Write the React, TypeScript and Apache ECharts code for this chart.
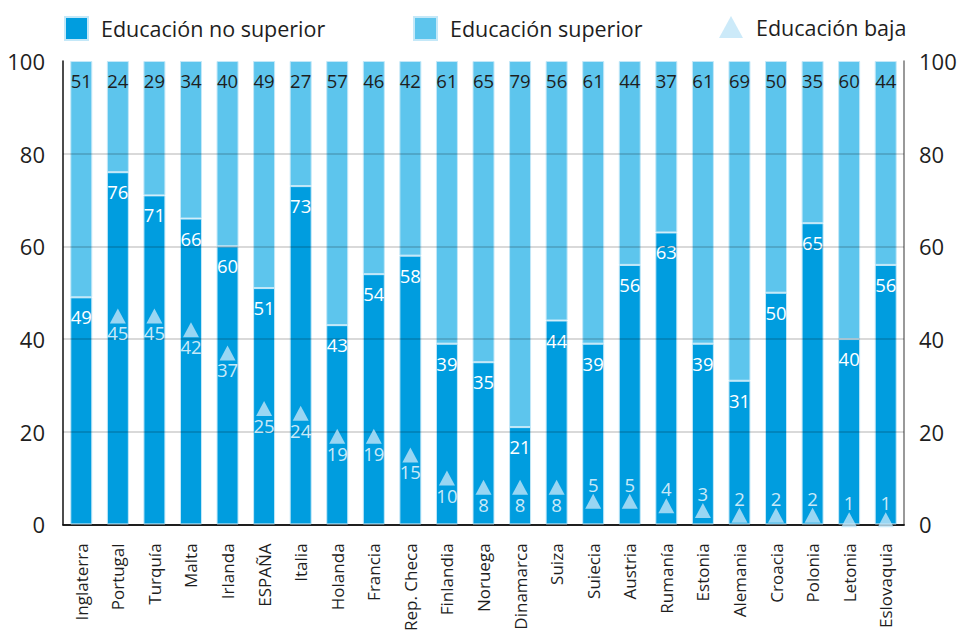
import React, { useEffect, useRef } from "react";
import * as echarts from "echarts";

const categories = [
  "Inglaterra", "Portugal", "Turquía", "Malta", "Irlanda", "ESPAÑA", "Italia",
  "Holanda", "Francia", "Rep. Checa", "Finlandia", "Noruega", "Dinamarca", "Suiza",
  "Suiecia", "Austria", "Rumanía", "Estonia", "Alemania", "Croacia", "Polonia",
  "Letonia", "Eslovaquia",
];
const noSuperior = [49, 76, 71, 66, 60, 51, 73, 43, 54, 58, 39, 35, 21, 44, 39, 56, 63, 39, 31, 50, 65, 40, 56];
const superior = [51, 24, 29, 34, 40, 49, 27, 57, 46, 42, 61, 65, 79, 56, 61, 44, 37, 61, 69, 50, 35, 60, 44];
const baja: (number | null)[] = [null, 45, 45, 42, 37, 25, 24, 19, 19, 15, 10, 8, 8, 8, 5, 5, 4, 3, 2, 2, 2, 1, 1];
const yTicks = [0, 20, 40, 60, 80, 100];
const seriesNames = ["Educación no superior", "Educación superior", "Educación baja"];

const FONT = "'Open Sans', 'Noto Sans', sans-serif";
const DARK = "#009ddf";
const LIGHT = "#5dc5ed";
const TRI = "#bfe5f7";
const TEXT = "#1e1e1e";

export default function App() {
  const ref = useRef<HTMLDivElement>(null);
  useEffect(() => {
    if (!ref.current) return;
    const chart = echarts.init(ref.current, null, { renderer: "svg" });
    const legendText = { fontFamily: FONT, fontSize: 21.5, color: TEXT, padding: [0, 0, 0, 8] };
    chart.setOption({
      animation: false,
      textStyle: { fontFamily: FONT },
      legend: [
        { data: [{ name: seriesNames[0], icon: "rect" }], left: 59, top: 11, itemWidth: 23, itemHeight: 23, textStyle: legendText, selectedMode: false },
        { data: [{ name: seriesNames[1], icon: "rect" }], left: 408, top: 11, itemWidth: 23, itemHeight: 23, textStyle: legendText, selectedMode: false },
        { data: [{ name: seriesNames[2], icon: "triangle" }], left: 714, top: 11, itemWidth: 24, itemHeight: 22, textStyle: legendText, selectedMode: false },
      ],
      grid: { left: 63, right: 57, top: 61, bottom: 107, containLabel: false },
      xAxis: [
        {
          type: "category",
          data: categories,
          position: "bottom",
          axisLine: { show: true, lineStyle: { color: "#111", width: 1.5 } },
          axisTick: { show: false },
          axisLabel: { rotate: 90, fontSize: 17, color: TEXT, margin: 19, fontFamily: FONT, interval: 0 },
        },
        {
          type: "category",
          data: categories,
          position: "top",
          axisLine: { show: true, lineStyle: { color: "#111", width: 1.5 } },
          axisTick: { show: false },
          axisLabel: { show: false },
        },
      ],
      yAxis: [
        {
          type: "value",
          min: yTicks[0],
          max: yTicks[yTicks.length - 1],
          interval: 20,
          position: "left",
          axisLine: { show: true, lineStyle: { color: "#111", width: 1.5 } },
          axisTick: { show: false },
          splitLine: { show: false },
          axisLabel: { fontSize: 22, color: TEXT, margin: 18, fontFamily: FONT },
        },
        {
          type: "value",
          min: yTicks[0],
          max: yTicks[yTicks.length - 1],
          interval: 20,
          position: "right",
          axisLine: { show: true, lineStyle: { color: "#777", width: 1.5 } },
          axisTick: { show: false },
          splitLine: { show: false },
          axisLabel: { fontSize: 22, color: TEXT, margin: 15, fontFamily: FONT },
        },
      ],
      series: [
        {
          name: seriesNames[0],
          type: "bar",
          stack: "total",
          data: noSuperior,
          barWidth: 22,
          itemStyle: { color: DARK, borderColor: "#c4e8f8", borderWidth: 1 },
          label: { show: true, position: "insideTop", distance: 10, color: "#fff", fontSize: 18.5, fontFamily: FONT },
        },
        {
          name: seriesNames[1],
          type: "bar",
          stack: "total",
          data: superior,
          barWidth: 22,
          itemStyle: { color: LIGHT, borderColor: "#c4e8f8", borderWidth: 1 },
          label: { show: true, position: "insideTop", distance: 10, color: TEXT, fontSize: 18.5, fontFamily: FONT },
          markLine: {
            silent: true,
            symbol: "none",
            z: 5,
            label: { show: false },
            lineStyle: { color: "rgba(0,0,0,0.2)", type: "solid", width: 1.5 },
            data: yTicks.slice(1, -1).map((v) => ({ yAxis: v })),
          },
        },
        {
          name: seriesNames[2],
          type: "scatter",
          symbol: "triangle",
          symbolSize: [16, 15],
          z: 6,
          itemStyle: { color: TRI },
          data: baja.map((v) =>
            v === null
              ? "-"
              : {
                  value: v,
                  label: {
                    show: true,
                    position: v >= 8 ? "bottom" : "top",
                    distance: 0,
                    color: "#fff",
                    fontSize: 18.5,
                    fontFamily: FONT,
                  },
                }
          ),
        },
      ],
    });
    return () => chart.dispose();
  }, []);
  return <div ref={ref} style={{ width: 961, height: 634, position: "absolute", left: 0, top: 0 }} />;
}
